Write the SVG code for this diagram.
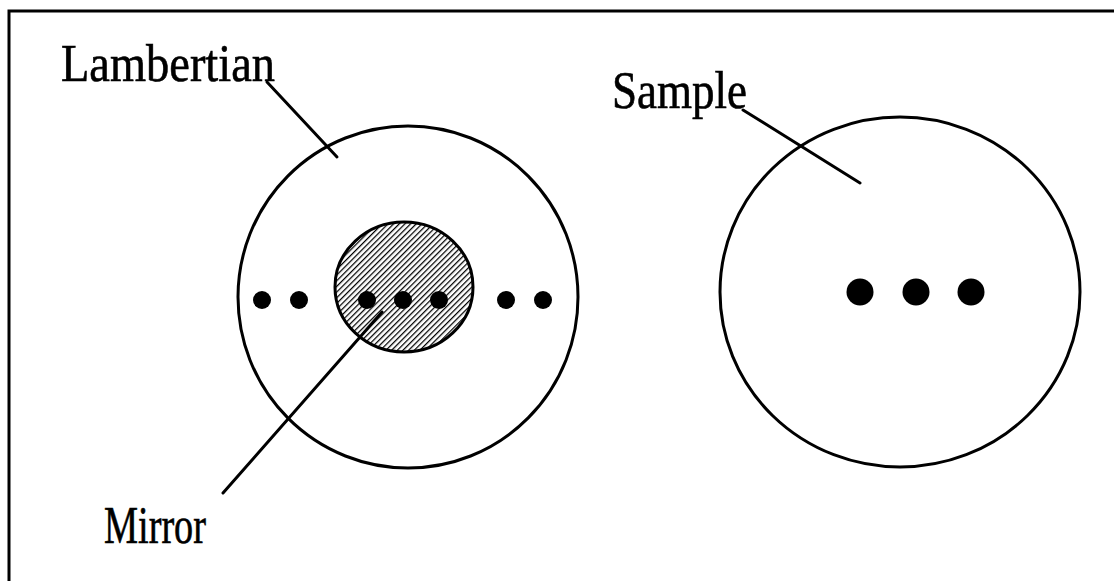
<svg xmlns="http://www.w3.org/2000/svg" width="1114" height="581" viewBox="0 0 1114 581">
<defs>
<pattern id="hatch" patternUnits="userSpaceOnUse" width="4" height="4" patternTransform="rotate(45)">
<rect width="4" height="4" fill="#ffffff"/>
<line x1="0" y1="0" x2="0" y2="4" stroke="#000" stroke-width="2.5"/>
</pattern>
</defs>
<style>
.ln{fill:none;stroke:#000;stroke-width:3;stroke-linecap:round}
.c{fill:none;stroke:#000;stroke-width:3}
.dot{fill:#000}
.t{font-family:"Liberation Serif",serif;font-size:53px;fill:#000;stroke:#000;stroke-width:0.6}
</style>
<rect x="0" y="0" width="1114" height="581" fill="#fff"/>
<rect x="9" y="11" width="1120" height="590" fill="none" stroke="#000" stroke-width="3"/>
<g id="lambertian">
<ellipse class="c" cx="408" cy="297" rx="170" ry="171"/>
<text class="t" x="61" y="81" textLength="214" lengthAdjust="spacingAndGlyphs">Lambertian</text>
</g>
<g id="mirror">
<ellipse cx="404" cy="287" rx="69" ry="65" fill="url(#hatch)" stroke="#000" stroke-width="3"/>
<text class="t" x="104" y="543" textLength="102" lengthAdjust="spacingAndGlyphs">Mirror</text>
</g>
<g id="sample">
<ellipse class="c" cx="900" cy="292" rx="180" ry="175"/>
<text class="t" x="612" y="108" textLength="135" lengthAdjust="spacingAndGlyphs">Sample</text>
</g>
<g id="dots">
<circle class="dot" cx="262" cy="300" r="9"/>
<circle class="dot" cx="299" cy="300" r="9"/>
<circle class="dot" cx="367" cy="300" r="9"/>
<circle class="dot" cx="403" cy="300" r="9"/>
<circle class="dot" cx="439" cy="300" r="9"/>
<circle class="dot" cx="506" cy="300" r="9"/>
<circle class="dot" cx="543" cy="300" r="9"/>
<circle class="dot" cx="860" cy="292" r="13.5"/>
<circle class="dot" cx="916" cy="292" r="13.5"/>
<circle class="dot" cx="971" cy="292" r="13.5"/>
</g>
<g id="connectors">
<line class="ln" x1="267" y1="82" x2="337" y2="157"/>
<line class="ln" x1="743" y1="110" x2="860" y2="183"/>
<line class="ln" x1="382" y1="312" x2="223" y2="493"/>
</g>
</svg>
